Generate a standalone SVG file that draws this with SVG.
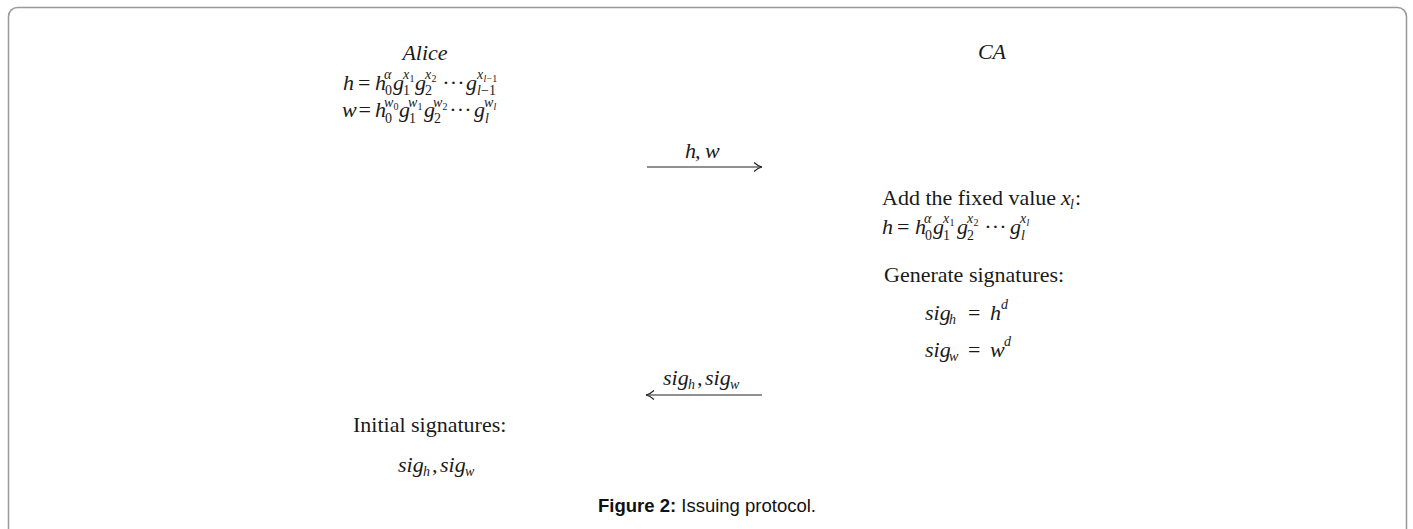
<svg xmlns="http://www.w3.org/2000/svg" width="1413" height="529" viewBox="0 0 1413 529">
<style>
text{font-family:"Liberation Serif","DejaVu Serif",serif;fill:#1a1a1a}
.r{font-size:22px}
.m{font-size:22px;font-style:italic}
.s{font-size:14px;font-style:italic}
.sr{font-size:14px}
.ss{font-size:10px;font-style:italic}
.ssr{font-size:10px}
.cap{font-family:"Liberation Sans",Arial,sans-serif;font-size:18.5px;fill:#111}
.ln{stroke:#222;stroke-width:1.1;fill:none}
</style>
<rect x="8.5" y="7.5" width="1398" height="545" rx="9" fill="#fff" stroke="#999" stroke-width="1.5"/>

<g id="alice">
<text class="m" x="425" y="60" text-anchor="middle">Alice</text>
<text class="m" x="343" y="90">h</text>
<text class="r" x="358" y="90">=</text>
<text class="m" x="375" y="90">h</text>
<text class="s" x="384" y="79">α</text>
<text class="sr" x="385" y="95">0</text>
<text class="m" x="393" y="90">g</text>
<text class="s" x="403" y="79">x</text><text class="ssr" x="409.5" y="82">1</text>
<text class="sr" x="403" y="95">1</text>
<text class="m" x="415" y="90">g</text>
<text class="s" x="425" y="79">x</text><text class="ssr" x="431.5" y="82">2</text>
<text class="sr" x="425" y="95">2</text>
<text class="r" x="446" y="90" text-anchor="middle">·</text>
<text class="r" x="453.5" y="90" text-anchor="middle">·</text>
<text class="r" x="461" y="90" text-anchor="middle">·</text>
<text class="m" x="466" y="90">g</text>
<text class="s" x="477" y="79">x</text><text class="ss" x="483.5" y="82">l</text><text class="ssr" x="486.5" y="82">−1</text>
<text class="s" x="477" y="95">l</text><text class="sr" x="481" y="95">−1</text>

<text class="m" x="342" y="117">w</text>
<text class="r" x="358.5" y="117">=</text>
<text class="m" x="375" y="117">h</text>
<text class="s" x="384" y="107">w</text><text class="ssr" x="393.5" y="110">0</text>
<text class="sr" x="385" y="123">0</text>
<text class="m" x="399" y="117">g</text>
<text class="s" x="408" y="107">w</text><text class="ssr" x="417.5" y="110">1</text>
<text class="sr" x="409" y="123">1</text>
<text class="m" x="424" y="117">g</text>
<text class="s" x="433" y="107">w</text><text class="ssr" x="442.5" y="110">2</text>
<text class="sr" x="434" y="123">2</text>
<text class="r" x="453" y="117" text-anchor="middle">·</text>
<text class="r" x="460.5" y="117" text-anchor="middle">·</text>
<text class="r" x="468" y="117" text-anchor="middle">·</text>
<text class="m" x="474" y="117">g</text>
<text class="s" x="484" y="107">w</text><text class="ss" x="493.5" y="110">l</text>
<text class="s" x="485" y="123">l</text>
</g>

<g id="ca">
<text class="m" x="992" y="59" text-anchor="middle">CA</text>
</g>

<g id="ca-compute">
<text class="r" x="882" y="205">Add the fixed value</text>
<text class="m" x="1061" y="205">x</text><text class="s" x="1070" y="209">l</text><text class="r" x="1075" y="205">:</text>

<text class="m" x="882" y="234">h</text>
<text class="r" x="897" y="234">=</text>
<text class="m" x="915" y="234">h</text>
<text class="s" x="924" y="223">α</text>
<text class="sr" x="925" y="240">0</text>
<text class="m" x="933" y="234">g</text>
<text class="s" x="943" y="223">x</text><text class="ssr" x="949.5" y="226">1</text>
<text class="sr" x="943" y="240">1</text>
<text class="m" x="957" y="234">g</text>
<text class="s" x="967" y="223">x</text><text class="ssr" x="973.5" y="226">2</text>
<text class="sr" x="967" y="240">2</text>
<text class="r" x="988" y="234" text-anchor="middle">·</text>
<text class="r" x="995.5" y="234" text-anchor="middle">·</text>
<text class="r" x="1003" y="234" text-anchor="middle">·</text>
<text class="m" x="1010" y="234">g</text>
<text class="s" x="1020" y="223">x</text><text class="ss" x="1026.5" y="226">l</text>
<text class="s" x="1021" y="240">l</text>

<text class="r" x="884" y="282">Generate signatures:</text>

<text class="m" x="925" y="320">sig</text><text class="s" x="949" y="324">h</text>
<text class="r" x="968" y="320">=</text>
<text class="m" x="990" y="320">h</text><text class="s" x="1001" y="309">d</text>

<text class="m" x="925" y="357">sig</text><text class="s" x="949" y="361">w</text>
<text class="r" x="968" y="357">=</text>
<text class="m" x="990" y="357">w</text><text class="s" x="1004" y="346">d</text>
</g>

<g id="alice-result">
<text class="r" x="353" y="432">Initial signatures:</text>
<text class="m" x="398" y="472">sig</text><text class="s" x="423" y="476">h</text><text class="m" x="432" y="472">,</text>
<text class="m" x="440" y="472">sig</text><text class="s" x="465" y="476">w</text>
</g>

<g id="connectors">
<g id="msg1">
<line class="ln" x1="647" y1="167" x2="762" y2="167"/>
<path class="ln" d="M754,162.5 Q758,166.3 762,167 Q758,167.7 754,171.5"/>
<text class="m" x="685" y="158">h</text><text class="m" x="695" y="158">,</text><text class="m" x="705" y="158">w</text>
</g>
<g id="msg2">
<line class="ln" x1="646" y1="395" x2="762" y2="395"/>
<path class="ln" d="M654,390.5 Q650,394.3 646,395 Q650,395.7 654,399.5"/>
<text class="m" x="663" y="385">sig</text><text class="s" x="688" y="389">h</text><text class="m" x="697" y="385">,</text>
<text class="m" x="705" y="385">sig</text><text class="s" x="730" y="389">w</text>
</g>
</g>

<text class="cap" x="707" y="512" text-anchor="middle"><tspan font-weight="bold">Figure 2:</tspan> Issuing protocol.</text>
</svg>
